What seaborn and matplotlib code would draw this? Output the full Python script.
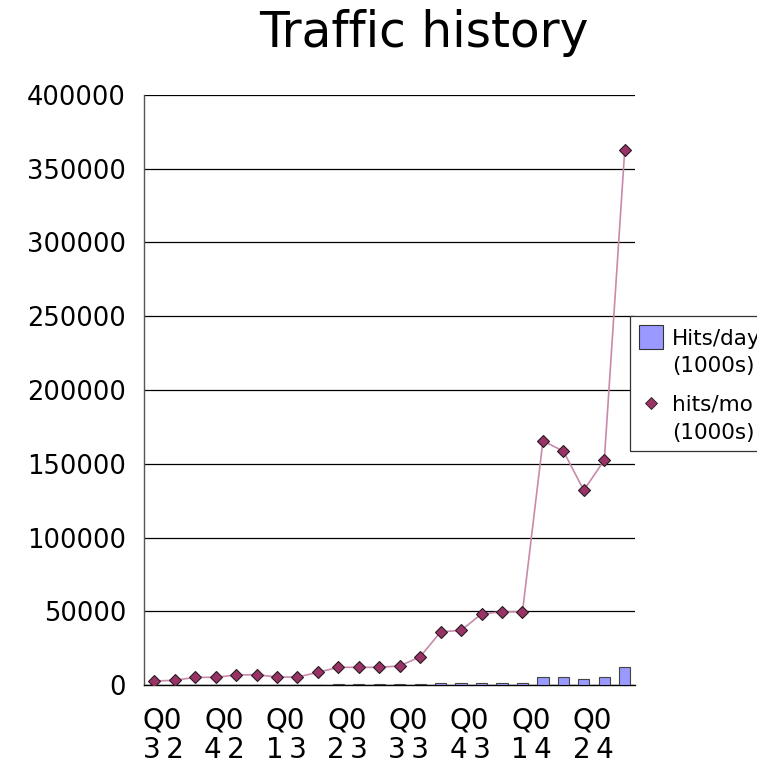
"""
Traffic history: monthly hits (bars = hits/day, line = hits/month)
"""
import numpy as np
import pandas as pd
import matplotlib
matplotlib.use('Agg')
import matplotlib.pyplot as plt
from matplotlib.patches import Rectangle
from matplotlib.lines import Line2D
from matplotlib.ticker import FixedLocator
import seaborn as sns

# 24 months, Jul 2002 .. Jun 2004
months = ['2002-07', '2002-08', '2002-09', '2002-10', '2002-11', '2002-12',
          '2003-01', '2003-02', '2003-03', '2003-04', '2003-05', '2003-06',
          '2003-07', '2003-08', '2003-09', '2003-10', '2003-11', '2003-12',
          '2004-01', '2004-02', '2004-03', '2004-04', '2004-05', '2004-06']

hits_day = [90, 100, 170, 170, 230, 230, 180, 180, 290, 400, 400, 400,
            430, 640, 1200, 1240, 1610, 1650, 1650, 5500, 5300, 4400, 5100, 12100]

hits_mo = [2700, 3200, 5200, 5200, 6800, 7000, 5400, 5400, 8600, 12000, 12000, 12000,
           12900, 19200, 36000, 37100, 48200, 49600, 49600, 165500, 158500, 132000,
           152500, 363000]

# quarter labels, one per 3 months (drawn stacked as in the original)
quarter_labels = ['Q0\n3\u20092', 'Q0\n4\u20092', 'Q0\n1\u20093', 'Q0\n2\u20093',
                  'Q0\n3\u20093', 'Q0\n4\u20093', 'Q0\n1\u20094', 'Q0\n2\u20094']

yticks = [0, 50000, 100000, 150000, 200000, 250000, 300000, 350000, 400000]

legend_labels = [['Hits/day', '(1000s)'], ['hits/mo', '(1000s)']]

BAR_COLOR = '#9999ff'
MARK_COLOR = '#993366'
LINE_COLOR = '#c98aaa'

W, H = 757, 771


def px(x, y):
    """pixel (from top-left) -> figure fraction"""
    return x / W, 1 - y / H


sns.set_style('white')
plt.rcParams['font.family'] = ['DejaVu Sans']
plt.rcParams['text.color'] = 'black'
plt.rcParams['ytick.color'] = 'black'
plt.rcParams['ytick.labelcolor'] = 'black'

df = pd.DataFrame({'month': months, 'hits_day': hits_day, 'hits_mo': hits_mo})
df['pos'] = np.arange(len(df))

fig = plt.figure(figsize=(W / 100, H / 100), dpi=100)
ax = fig.add_axes([144 / W, 1 - 685 / H, (635 - 144) / W, (685 - 95) / H])

sns.barplot(data=df, x='month', y='hits_day', color=BAR_COLOR, saturation=1,
            width=0.55, edgecolor='#444444', linewidth=0.8, ax=ax, zorder=3)
sns.lineplot(data=df, x='pos', y='hits_mo', color=LINE_COLOR, linewidth=1.2,
             marker='D', markersize=6.5, markerfacecolor=MARK_COLOR,
             markeredgecolor='#2a1a22', markeredgewidth=0.8, ax=ax, zorder=4)

ax.set_xlim(-0.5, len(months) - 0.5)
ax.set_ylim(0, 400000)
ax.set_yticks(yticks)
ax.set_yticklabels([str(v) for v in yticks], fontsize=18.5, color='black')
ax.yaxis.grid(True, color='black', linewidth=0.9)
ax.set_axisbelow(True)
ax.tick_params(axis='y', length=8, width=0.9, color='black', pad=5)

# month boundary ticks, no labels on them
ax.set_xticks([])
ax.xaxis.set_minor_locator(FixedLocator(np.arange(-0.5, len(months), 1.0)))
ax.tick_params(axis='x', which='minor', length=7.5, width=1.2, color='#777777')
ax.set_xlabel('')
ax.set_ylabel('')

for side in ['top', 'right']:
    ax.spines[side].set_visible(False)
ax.spines['left'].set_color('#555555')
ax.spines['bottom'].set_color('black')
ax.spines['left'].set_linewidth(1.0)
ax.spines['bottom'].set_linewidth(1.0)

trans = ax.get_xaxis_transform()
for i, lab in enumerate(quarter_labels):
    ax.text(3 * i - 0.55, -0.037, lab, transform=trans, ha='left', va='top',
            fontsize=20, linespacing=1.05, color='black')

fig.text(*px(424, 33), 'Traffic history', ha='center', va='center',
         fontsize=35, color='black')

# legend box, drawn by hand so it can run past the right edge like the original
x0, y0 = px(630, 451)
x1, y1 = px(775, 316)
fig.add_artist(Rectangle((x0, y0), x1 - x0, y1 - y0, transform=fig.transFigure,
                         facecolor='white', edgecolor='#333333', linewidth=0.9,
                         zorder=5))
sx0, sy0 = px(639, 349)
sx1, sy1 = px(663, 325)
fig.add_artist(Rectangle((sx0, sy0), sx1 - sx0, sy1 - sy0, transform=fig.transFigure,
                         facecolor=BAR_COLOR, edgecolor='#333333', linewidth=0.8,
                         zorder=6))
mx, my = px(651, 403)
fig.add_artist(Line2D([mx], [my], transform=fig.transFigure, linestyle='none',
                      marker='D', markersize=6, markerfacecolor=MARK_COLOR,
                      markeredgecolor='#2a1a22', markeredgewidth=0.6, zorder=6))
baselines = [[345, 372], [411, 439]]
for lines, ys in zip(legend_labels, baselines):
    for txt, yb in zip(lines, ys):
        fig.text(*px(672, yb), txt, ha='left', va='baseline', fontsize=15.5,
                 color='black', zorder=7)

fig.savefig('out.png', dpi=100)
